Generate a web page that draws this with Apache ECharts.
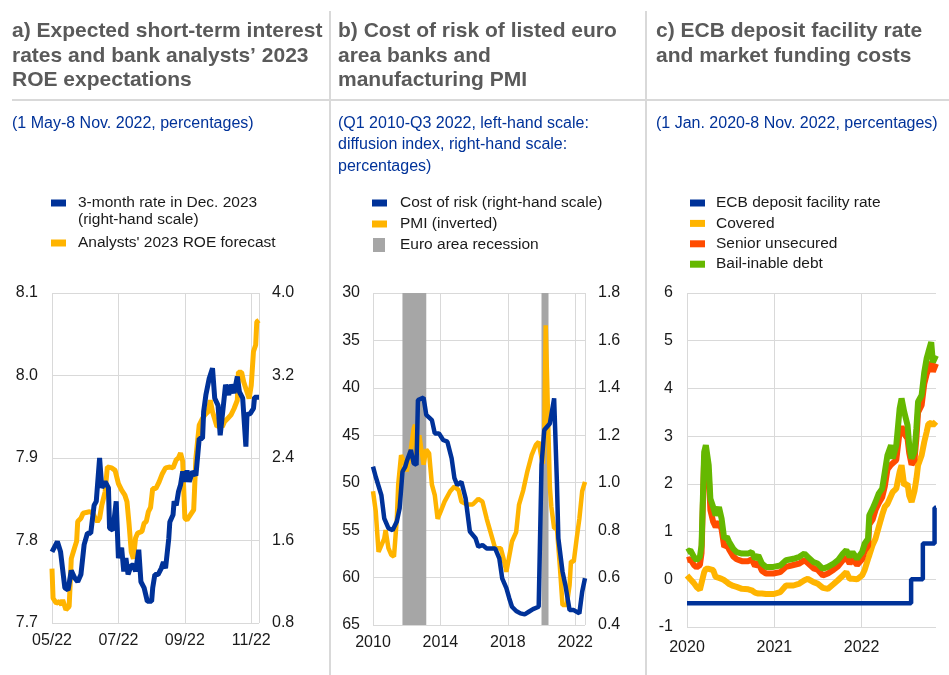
<!DOCTYPE html>
<html lang="en">
<head>
<meta charset="UTF-8">
<title>Rates, cost of risk and funding costs</title>
<script src="https://cdn.jsdelivr.net/npm/echarts@6/dist/echarts.min.js"></script>
<style>
  html, body { margin: 0; padding: 0; background: #fff; }
  #main { width: 949px; height: 675px; }
</style>
</head>
<body>
<div id="main"></div>
<script type="text/javascript">
// ---- panel a: 1 May - 8 Nov 2022 ----
var monthLabels = ['05/22', '07/22', '09/22', '11/22'];
var rate3m = [
  ['2022-05-01',1.49],['2022-05-06',1.59],['2022-05-09',1.49],['2022-05-13',1.14],['2022-05-16',1.12],
  ['2022-05-19',1.31],['2022-05-22',1.24],['2022-05-25',1.20],['2022-05-28',1.27],['2022-05-31',1.56],
  ['2022-06-03',1.67],['2022-06-06',1.67],['2022-06-09',1.94],['2022-06-11',1.98],['2022-06-14',2.40],
  ['2022-06-16',2.11],['2022-06-19',2.17],['2022-06-22',2.11],['2022-06-23',1.72],['2022-06-26',1.70],
  ['2022-06-29',1.98],['2022-07-01',1.43],['2022-07-04',1.53],['2022-07-06',1.30],['2022-07-08',1.43],
  ['2022-07-10',1.27],['2022-07-13',1.36],['2022-07-15',1.36],['2022-07-17',1.30],['2022-07-20',1.51],
  ['2022-07-22',1.20],['2022-07-25',1.14],['2022-07-28',1.01],['2022-08-01',1.01],['2022-08-02',1.14],
  ['2022-08-04',1.27],['2022-08-07',1.27],['2022-08-10',1.33],['2022-08-12',1.39],['2022-08-14',1.33],
  ['2022-08-17',1.62],['2022-08-18',1.78],['2022-08-21',1.85],['2022-08-22',1.98],['2022-08-24',1.94],
  ['2022-08-26',2.07],['2022-08-28',2.14],['2022-08-30',2.27],['2022-09-01',2.17],['2022-09-03',2.28],
  ['2022-09-05',2.17],['2022-09-08',2.27],['2022-09-11',2.23],['2022-09-14',2.59],['2022-09-17',2.59],
  ['2022-09-18',2.85],['2022-09-20',3.01],['2022-09-23',3.17],['2022-09-26',3.27],['2022-09-28',2.98],
  ['2022-10-01',2.91],['2022-10-03',2.62],['2022-10-06',2.91],['2022-10-08',3.11],['2022-10-11',3.01],
  ['2022-10-13',3.11],['2022-10-16',3.03],['2022-10-19',3.19],['2022-10-21',3.04],['2022-10-24',2.98],
  ['2022-10-27',2.51],['2022-10-28',2.82],['2022-10-31',2.83],['2022-11-03',2.88],['2022-11-04',2.99],
  ['2022-11-08',2.99]
];
var roe2023 = [
  ['2022-05-01',7.766],['2022-05-02',7.730],['2022-05-05',7.724],['2022-05-08',7.726],['2022-05-10',7.722],
  ['2022-05-11',7.728],['2022-05-14',7.716],['2022-05-17',7.720],['2022-05-19',7.778],['2022-05-22',7.791],
  ['2022-05-24',7.799],['2022-05-25',7.823],['2022-05-28',7.827],['2022-05-30',7.833],['2022-06-02',7.834],
  ['2022-06-05',7.835],['2022-06-08',7.833],['2022-06-10',7.827],['2022-06-12',7.823],['2022-06-14',7.827],
  ['2022-06-16',7.843],['2022-06-19',7.859],['2022-06-21',7.889],['2022-06-25',7.888],['2022-06-28',7.885],
  ['2022-07-01',7.869],['2022-07-04',7.861],['2022-07-07',7.855],['2022-07-09',7.847],['2022-07-11',7.819],
  ['2022-07-13',7.786],['2022-07-15',7.778],['2022-07-17',7.803],['2022-07-19',7.809],['2022-07-23',7.811],
  ['2022-07-25',7.821],['2022-07-27',7.823],['2022-07-29',7.835],['2022-07-31',7.840],['2022-08-02',7.863],
  ['2022-08-05',7.863],['2022-08-08',7.871],['2022-08-11',7.881],['2022-08-14',7.888],['2022-08-18',7.889],
  ['2022-08-21',7.888],['2022-08-24',7.898],['2022-08-26',7.900],['2022-08-28',7.906],['2022-08-30',7.896],
  ['2022-09-01',7.827],['2022-09-03',7.825],['2022-09-06',7.831],['2022-09-09',7.837],['2022-09-11',7.900],
  ['2022-09-14',7.940],['2022-09-17',7.948],['2022-09-19',7.952],['2022-09-22',7.956],['2022-09-24',7.970],
  ['2022-09-26',7.956],['2022-09-30',7.938],['2022-10-03',7.940],['2022-10-05',7.938],['2022-10-07',7.944],
  ['2022-10-10',7.948],['2022-10-13',7.952],['2022-10-16',7.960],['2022-10-19',7.970],['2022-10-20',8.004],
  ['2022-10-23',8.004],['2022-10-25',7.992],['2022-10-27',7.984],['2022-10-30',7.972],['2022-11-01',7.988],
  ['2022-11-03',8.029],['2022-11-05',8.037],['2022-11-06',8.065],['2022-11-08',8.067]
];

// ---- panel b: Q1 2010 - Q3 2022 ----
var pmi = [
  ['2010-01',50.9],['2010-03',53.0],['2010-05',57.3],['2010-07',56.6],['2010-09',55.9],['2010-10',55.0],
  ['2010-12',56.9],['2011-02',57.6],['2011-04',57.8],['2011-06',53.8],['2011-07',50.2],['2011-09',47.1],
  ['2011-11',47.8],['2012-01',48.8],['2012-02',48.1],['2012-04',46.4],['2012-06',44.3],['2012-07',43.9],
  ['2012-08',47.4],['2012-10',45.0],['2013-01',48.1],['2013-03',46.5],['2013-05',46.9],['2013-07',50.2],
  ['2013-09',51.3],['2013-11',53.8],['2014-01',53.1],['2014-04',52.0],['2014-08',50.9],['2014-11',50.4],
  ['2015-02',50.8],['2015-04',52.0],['2015-08',52.3],['2015-12',52.3],['2016-04',51.7],['2016-07',52.0],
  ['2016-10',53.8],['2017-02',55.9],['2017-04',56.9],['2017-08',56.9],['2017-10',58.0],['2017-12',59.4],
  ['2018-01',59.6],['2018-04',56.2],['2018-07',55.2],['2018-09',52.3],['2018-12',50.8],['2019-03',48.8],
  ['2019-06',47.1],['2019-09',46.0],['2019-11',45.7],['2020-01',47.4],['2020-02',48.0],['2020-03',44.6],
  ['2020-04',33.4],['2020-05',39.0],['2020-06',45.0],['2020-07',50.5],['2020-08',52.5],['2020-10',54.8],
  ['2020-12',54.8],['2021-02',58.7],['2021-04',62.9],['2021-07',62.9],['2021-09',60.8],['2021-10',58.3],
  ['2021-12',58.3],['2022-02',55.9],['2022-04',53.8],['2022-06',50.9],['2022-08',49.9]
];
var costOfRisk = [
  ['2010-01',1.068],['2010-03',1.025],['2010-07',0.948],['2010-09',0.850],['2010-12',0.808],['2011-03',0.800],
  ['2011-06',0.836],['2011-08',0.892],['2011-10',1.046],['2011-12',1.068],['2012-01',1.089],['2012-04',1.138],
  ['2012-06',1.082],['2012-08',1.075],['2012-09',1.349],['2013-01',1.359],['2013-03',1.286],['2013-07',1.264],
  ['2013-09',1.208],['2013-12',1.208],['2014-03',1.180],['2014-06',1.173],['2014-09',1.103],['2014-11',1.019],
  ['2015-01',0.990],['2015-04',1.004],['2015-07',0.934],['2015-10',0.794],['2016-02',0.766],['2016-04',0.730],
  ['2016-07',0.737],['2016-10',0.723],['2017-02',0.723],['2017-04',0.723],['2017-07',0.681],['2017-09',0.597],
  ['2017-12',0.555],['2018-02',0.513],['2018-04',0.477],['2018-07',0.459],['2018-10',0.449],['2019-01',0.445],
  ['2019-04',0.456],['2019-07',0.467],['2019-11',0.477],['2020-01',1.075],['2020-03',1.222],['2020-07',1.250],
  ['2020-10',1.356],['2020-12',1.000],['2021-01',0.766],['2021-04',0.625],['2021-06',0.569],['2021-09',0.463],
  ['2021-12',0.463],['2022-04',0.449],['2022-06',0.540],['2022-08',0.597]
];
var recessions = [['2011-10', '2013-03'], ['2020-01', '2020-06']];

// ---- panel c: 1 Jan 2020 - 8 Nov 2022 ----
var ecbDates = ['2020-01-01', '2022-07-27', '2022-09-14', '2022-11-02', '2022-11-08'];
var ecbRate  = [-0.5, 0, 0.75, 1.5, 1.5];
var fundDates = [
  '2020-01-01','2020-01-15','2020-01-30','2020-02-10','2020-02-24','2020-03-02','2020-03-13','2020-03-20',
  '2020-04-01','2020-04-08','2020-04-20','2020-04-30','2020-05-14','2020-05-25','2020-06-05','2020-06-16',
  '2020-06-26','2020-07-13','2020-07-27','2020-08-18','2020-09-14','2020-09-28','2020-10-12','2020-10-26',
  '2020-11-10','2020-11-27','2020-12-28','2021-01-26','2021-02-19','2021-03-22','2021-04-16','2021-05-07',
  '2021-05-21','2021-06-14','2021-07-01','2021-07-23','2021-08-13','2021-09-06','2021-09-24','2021-10-15',
  '2021-10-29','2021-11-12','2021-11-24','2021-12-13','2022-01-03','2022-01-14','2022-01-28','2022-02-02',
  '2022-02-16','2022-02-28','2022-03-14','2022-03-28','2022-04-08','2022-04-19','2022-05-04','2022-05-11',
  '2022-05-26','2022-06-09','2022-06-17','2022-06-28','2022-07-12','2022-07-19','2022-07-29','2022-08-10',
  '2022-08-18','2022-08-25','2022-09-09','2022-09-20','2022-09-30','2022-10-07','2022-10-19','2022-10-26',
  '2022-11-08'
];
var covered = [
  0.08, 0.00, -0.08, -0.16, -0.22, -0.23, 0.15, 0.22,
  0.22, 0.22, 0.19, 0.05, 0.03, 0.01, -0.02, -0.06,
  -0.10, -0.14, -0.16, -0.20, -0.21, -0.23, -0.28, -0.30,
  -0.30, -0.31, -0.31, -0.27, -0.13, -0.13, -0.09, -0.02,
  0.01, -0.06, -0.09, -0.18, -0.20, -0.10, -0.02, 0.08,
  0.15, 0.01, 0.01, 0.00, 0.08, 0.20, 0.43, 0.50,
  0.72, 0.85, 1.10, 1.35, 1.52, 1.58, 1.75, 1.83,
  1.90, 2.25, 2.39, 1.97, 2.00, 1.75, 1.62, 1.85,
  2.10, 2.39, 2.60, 2.88, 3.09, 3.25, 3.28, 3.23,
  3.30
];
var seniorUnsecured = [
  0.40, 0.42, 0.30, 0.25, 0.30, 0.55, 2.55, 2.70,
  2.20, 1.45, 1.20, 1.10, 1.20, 1.05, 0.68, 0.72,
  0.62, 0.48, 0.42, 0.38, 0.38, 0.42, 0.28, 0.34,
  0.18, 0.12, 0.12, 0.15, 0.26, 0.30, 0.33, 0.40,
  0.34, 0.23, 0.20, 0.08, 0.12, 0.20, 0.27, 0.40,
  0.46, 0.33, 0.42, 0.30, 0.42, 0.60, 0.70, 1.15,
  1.25, 1.45, 1.60, 1.72, 1.95, 2.30, 2.40, 2.38,
  2.50, 3.10, 3.20, 3.05, 2.95, 2.65, 2.40, 2.50,
  2.95, 3.50, 3.65, 4.10, 4.30, 4.40, 4.55, 4.35,
  4.52
];
var bailInable = [
  0.57, 0.61, 0.47, 0.40, 0.47, 0.71, 2.67, 2.81,
  2.39, 1.69, 1.51, 1.34, 1.51, 1.27, 0.85, 0.89,
  0.78, 0.64, 0.57, 0.54, 0.54, 0.57, 0.43, 0.50,
  0.33, 0.26, 0.26, 0.29, 0.40, 0.43, 0.47, 0.54,
  0.47, 0.36, 0.33, 0.22, 0.26, 0.33, 0.40, 0.54,
  0.61, 0.47, 0.57, 0.43, 0.57, 0.75, 0.85, 1.34,
  1.48, 1.62, 1.80, 1.90, 2.25, 2.60, 2.81, 2.53,
  2.81, 3.58, 3.79, 3.51, 3.23, 2.81, 2.53, 2.67,
  3.16, 3.72, 3.86, 4.34, 4.63, 4.76, 4.97, 4.55,
  4.69
];

// date helpers
function dateParts(s) {
  var p = s.split('-');
  return [+p[0], +p[1], p[2] ? +p[2] : 1];
}
// months since 1 May 2022
function monthPos(s) {
  var p = dateParts(s);
  var dim = new Date(Date.UTC(p[0], p[1], 0)).getUTCDate();
  return (p[0] - 2022) * 12 + (p[1] - 5) + (p[2] - 1) / dim;
}
// decimal year
function yearPos(s) {
  var p = dateParts(s);
  var t0 = Date.UTC(p[0], 0, 1), t1 = Date.UTC(p[0] + 1, 0, 1);
  return p[0] + (Date.UTC(p[0], p[1] - 1, p[2]) - t0) / (t1 - t0);
}

var BLUE = '#003299', YELLOW = '#ffb400', RED = '#ff4b00', GREEN = '#65b800', GREY = '#a6a6a6';
var GRID_LINE = { show: true, lineStyle: { color: '#d9d9d9', width: 1 } };
var LABEL = { color: '#1a1a1a', fontSize: 16 };
var FONT = 'Liberation Sans, Arial, sans-serif';

var chart = echarts.init(document.getElementById('main'));

function legendBox(names, left, top, opts) {
  return Object.assign({
    orient: 'vertical', left: left, top: top, padding: 0,
    itemWidth: 15, itemHeight: 7, itemGap: 1, icon: 'rect',
    selectedMode: false,
    textStyle: { fontSize: 15.5, color: '#1a1a1a', lineHeight: 20, padding: [0, 0, 0, 7] },
    data: names
  }, opts || {});
}

var titleStyle = { fontSize: 21, fontWeight: 'bold', color: '#5a5a5a', lineHeight: 24.5 };
var subStyle = { fontSize: 16, fontWeight: 'normal', color: BLUE, lineHeight: 21.5 };

var option = {
  animation: false,
  textStyle: { fontFamily: FONT },
  title: [
    { text: 'a) Expected short-term interest\nrates and bank analysts\u2019 2023\nROE expectations', left: 12, top: 19, padding: 0, textStyle: titleStyle },
    { text: 'b) Cost of risk of listed euro\narea banks and\nmanufacturing PMI', left: 338, top: 19, padding: 0, textStyle: titleStyle },
    { text: 'c) ECB deposit facility rate\nand market funding costs', left: 656, top: 19, padding: 0, textStyle: titleStyle },
    { text: '(1 May-8 Nov. 2022, percentages)', left: 12, top: 112.5, padding: 0, textStyle: subStyle },
    { text: '(Q1 2010-Q3 2022, left-hand scale:\ndiffusion index, right-hand scale:\npercentages)', left: 338, top: 112.5, padding: 0, textStyle: subStyle },
    { text: '(1 Jan. 2020-8 Nov. 2022, percentages)', left: 656, top: 112.5, padding: 0, textStyle: subStyle }
  ],
  graphic: [
    { type: 'line', shape: { x1: 330, y1: 11, x2: 330, y2: 675 }, style: { stroke: '#d9d9d9', lineWidth: 2 } },
    { type: 'line', shape: { x1: 646, y1: 11, x2: 646, y2: 675 }, style: { stroke: '#d9d9d9', lineWidth: 2 } },
    { type: 'line', shape: { x1: 12, y1: 100, x2: 949, y2: 100 }, style: { stroke: '#d9d9d9', lineWidth: 2 } },
    { type: 'text', left: 78, top: 212, style: { text: '(right-hand scale)', fontSize: 15.5, fill: '#1a1a1a', fontFamily: FONT } }
  ],
  legend: [
    legendBox(['3-month rate in Dec. 2023'], 51, 193),
    legendBox(["Analysts' 2023 ROE forecast"], 51, 233),
    legendBox(['Cost of risk (right-hand scale)', 'PMI (inverted)'], 372, 193, { textStyle: { fontSize: 15.5, color: '#1a1a1a', lineHeight: 20, padding: [0, 0, 0, 8] } }),
    legendBox(['Euro area recession'], 373, 235, { itemWidth: 12, itemHeight: 14, textStyle: { fontSize: 15.5, color: '#1a1a1a', lineHeight: 20, padding: [0, 0, 0, 10] } }),
    legendBox(['ECB deposit facility rate', 'Covered', 'Senior unsecured', 'Bail-inable debt'], 690, 193, { itemGap: 0.4, textStyle: { fontSize: 15.5, color: '#1a1a1a', lineHeight: 20, padding: [0, 0, 0, 6] } })
  ],
  grid: [
    { left: 52, top: 293, width: 207, height: 330 },
    { left: 373, top: 293, width: 212, height: 332 },
    { left: 687, top: 293, width: 249, height: 334 }
  ],
  xAxis: [
    {
      gridIndex: 0, type: 'value', min: 0, max: monthPos('2022-11-08'), interval: 2,
      axisLine: { show: false }, axisTick: { show: false }, splitLine: GRID_LINE,
      axisLabel: Object.assign({ margin: 10, showMaxLabel: false, formatter: function (v) {
        return (v % 2 === 0 && monthLabels[v / 2]) ? monthLabels[v / 2] : '';
      } }, LABEL)
    },
    {
      gridIndex: 1, type: 'value', min: 2010, max: yearPos('2022-08'), interval: 4,
      axisLine: { show: false }, axisTick: { show: false }, splitLine: GRID_LINE,
      axisLabel: Object.assign({ margin: 10, showMaxLabel: false, formatter: function (v) {
        return (Number.isInteger(v) && (v - 2010) % 4 === 0) ? String(v) : '';
      } }, LABEL)
    },
    {
      gridIndex: 2, type: 'value', min: 2020, max: yearPos('2022-11-08'), interval: 1,
      axisLine: { show: false }, axisTick: { show: false },
      splitLine: { show: true, showMaxLine: false, lineStyle: { color: '#d9d9d9', width: 1 } },
      axisLabel: Object.assign({ margin: 13, showMaxLabel: false, formatter: function (v) {
        return Number.isInteger(v) ? String(v) : '';
      } }, LABEL)
    }
  ],
  yAxis: [
    {
      gridIndex: 0, type: 'value', min: 7.7, max: 8.1, interval: 0.1,
      axisLine: { show: false }, axisTick: { show: false }, splitLine: GRID_LINE,
      axisLabel: Object.assign({ margin: 14, formatter: function (v) { return v.toFixed(1); } }, LABEL)
    },
    {
      gridIndex: 0, type: 'value', position: 'right', min: 0.8, max: 4.0, interval: 0.8,
      axisLine: { show: false }, axisTick: { show: false }, splitLine: { show: false },
      axisLabel: Object.assign({ margin: 13, formatter: function (v) { return v.toFixed(1); } }, LABEL)
    },
    {
      gridIndex: 1, type: 'value', inverse: true, min: 30, max: 65, interval: 5,
      axisLine: { show: false }, axisTick: { show: false }, splitLine: GRID_LINE,
      axisLabel: Object.assign({ margin: 13 }, LABEL)
    },
    {
      gridIndex: 1, type: 'value', position: 'right', min: 0.4, max: 1.8, interval: 0.2,
      axisLine: { show: false }, axisTick: { show: false }, splitLine: { show: false },
      axisLabel: Object.assign({ margin: 13, formatter: function (v) { return v.toFixed(1); } }, LABEL)
    },
    {
      gridIndex: 2, type: 'value', min: -1, max: 6, interval: 1,
      axisLine: { show: false }, axisTick: { show: false }, splitLine: GRID_LINE,
      axisLabel: Object.assign({ margin: 14 }, LABEL)
    }
  ],
  series: [
    {
      name: "Analysts' 2023 ROE forecast", type: 'line', xAxisIndex: 0, yAxisIndex: 0,
      showSymbol: false, color: YELLOW, lineStyle: { width: 5 }, z: 2,
      data: roe2023.map(function (d) { return [monthPos(d[0]), d[1]]; })
    },
    {
      name: '3-month rate in Dec. 2023', type: 'line', xAxisIndex: 0, yAxisIndex: 1,
      showSymbol: false, color: BLUE, lineStyle: { width: 5 }, z: 3,
      data: rate3m.map(function (d) { return [monthPos(d[0]), d[1]]; })
    },
    {
      name: 'Euro area recession', type: 'line', xAxisIndex: 1, yAxisIndex: 2,
      color: GREY, data: [], z: 1,
      markArea: {
        silent: true, itemStyle: { color: GREY, opacity: 1 },
        data: recessions.map(function (r) { return [{ xAxis: yearPos(r[0]) }, { xAxis: yearPos(r[1]) }]; })
      }
    },
    {
      name: 'PMI (inverted)', type: 'line', xAxisIndex: 1, yAxisIndex: 2,
      showSymbol: false, color: YELLOW, lineStyle: { width: 4.5 }, z: 2,
      data: pmi.map(function (d) { return [yearPos(d[0]), d[1]]; })
    },
    {
      name: 'Cost of risk (right-hand scale)', type: 'line', xAxisIndex: 1, yAxisIndex: 3,
      showSymbol: false, color: BLUE, lineStyle: { width: 4.5 }, z: 3,
      data: costOfRisk.map(function (d) { return [yearPos(d[0]), d[1]]; })
    },
    {
      name: 'ECB deposit facility rate', type: 'line', xAxisIndex: 2, yAxisIndex: 4, step: 'end',
      showSymbol: false, color: BLUE, lineStyle: { width: 4.5 }, z: 2,
      data: ecbDates.map(function (d, i) { return [yearPos(d), ecbRate[i]]; })
    },
    {
      name: 'Covered', type: 'line', xAxisIndex: 2, yAxisIndex: 4,
      showSymbol: false, color: YELLOW, lineStyle: { width: 6 }, z: 3,
      data: fundDates.map(function (d, i) { return [yearPos(d), covered[i]]; })
    },
    {
      name: 'Senior unsecured', type: 'line', xAxisIndex: 2, yAxisIndex: 4,
      showSymbol: false, color: RED, lineStyle: { width: 6 }, z: 4,
      data: fundDates.map(function (d, i) { return [yearPos(d), seniorUnsecured[i]]; })
    },
    {
      name: 'Bail-inable debt', type: 'line', xAxisIndex: 2, yAxisIndex: 4,
      showSymbol: false, color: GREEN, lineStyle: { width: 6 }, z: 5,
      data: fundDates.map(function (d, i) { return [yearPos(d), bailInable[i]]; })
    }
  ]
};
chart.setOption(option);
</script>
</body>
</html>
